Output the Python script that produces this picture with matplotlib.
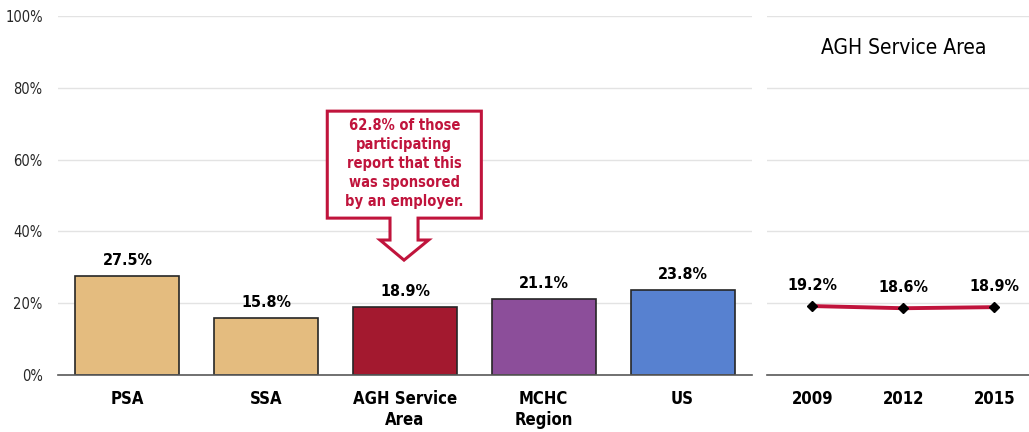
import matplotlib.pyplot as plt
from matplotlib.patches import Polygon

plt.rcParams['font.family'] = ['DejaVu Sans']
plt.rcParams['font.stretch'] = 'condensed'

# data
areas = ['PSA', 'SSA', 'AGH Service\nArea', 'MCHC\nRegion', 'US']
area_vals = [27.5, 15.8, 18.9, 21.1, 23.8]
area_colors = ['#E4BC7F', '#E4BC7F', '#A3192F', '#8C4E9A', '#5781D0']

years = ['2009', '2012', '2015']
trend_vals = [19.2, 18.6, 18.9]

yticks = [0, 20, 40, 60, 80, 100]
note = '62.8% of those\nparticipating\nreport that this\nwas sponsored\nby an employer.'
red = '#C0143C'

fig = plt.figure(figsize=(10.29, 4.32), dpi=100)
W, H = 1029, 432
ax1 = fig.add_axes([58 / W, 1 - 375 / H, (752 - 58) / W, (375 - 16) / H])
ax2 = fig.add_axes([767 / W, 1 - 375 / H, (1029 - 767) / W, (375 - 16) / H])

for ax in (ax1, ax2):
    ax.set_ylim(0, 100)
    ax.set_yticks(yticks)
    ax.grid(axis='y', color='#E3E3E3', linewidth=1)
    ax.set_axisbelow(True)
    for s in ('top', 'right', 'left'):
        ax.spines[s].set_visible(False)
    ax.spines['bottom'].set_color('#595959')
    ax.spines['bottom'].set_linewidth(1.2)
    ax.tick_params(length=0)

# left: bars
x = range(len(areas))
ax1.bar(x, area_vals, width=0.75, color=area_colors, edgecolor='#262626', linewidth=1.2)
for i, v in enumerate(area_vals):
    ax1.text(i, v + 2.2, f'{v:.1f}%', ha='center', va='bottom', fontsize=11.5, fontweight='bold')
ax1.set_xlim(-0.5, len(areas) - 0.5)
ax1.set_xticks(list(x))
ax1.set_xticklabels(areas, fontsize=12, fontweight='bold', linespacing=1.2)
ax1.tick_params(axis='x', pad=11)
ax1.set_yticklabels([f'{t}%' for t in yticks], fontsize=10.5, color='#262626')
ax1.tick_params(axis='y', pad=11)

# callout arrow box
callout = [(1.44, 73.5), (2.55, 73.5), (2.55, 43.7), (2.094, 43.7), (2.094, 37.6),
           (2.17, 37.6), (1.993, 32.0), (1.82, 37.6), (1.892, 37.6), (1.892, 43.7),
           (1.44, 43.7)]
ax1.add_patch(Polygon(callout, closed=True, facecolor='white', edgecolor=red, linewidth=2.2, zorder=5))
ax1.text(1.995, 58.8, note, ha='center', va='center', fontsize=10.5, fontweight='bold',
         color=red, linespacing=1.33, zorder=6)

# right: trend
xs = range(len(years))
ax2.plot(xs, trend_vals, color=red, linewidth=2.8, marker='D', markersize=5,
         markerfacecolor='black', markeredgecolor='black', zorder=3)
for i, v in enumerate(trend_vals):
    ax2.text(i, v + 3.6, f'{v:.1f}%', ha='center', va='bottom', fontsize=11.5, fontweight='bold')
ax2.set_xlim(-0.5, 2.38)
ax2.set_xticks(list(xs))
ax2.set_xticklabels(years, fontsize=12, fontweight='bold')
ax2.tick_params(axis='x', pad=11)
ax2.set_yticklabels([])
ax2.text(1, 91, 'AGH Service Area', ha='center', va='center', fontsize=15)

fig.savefig('out.png', dpi=100)
